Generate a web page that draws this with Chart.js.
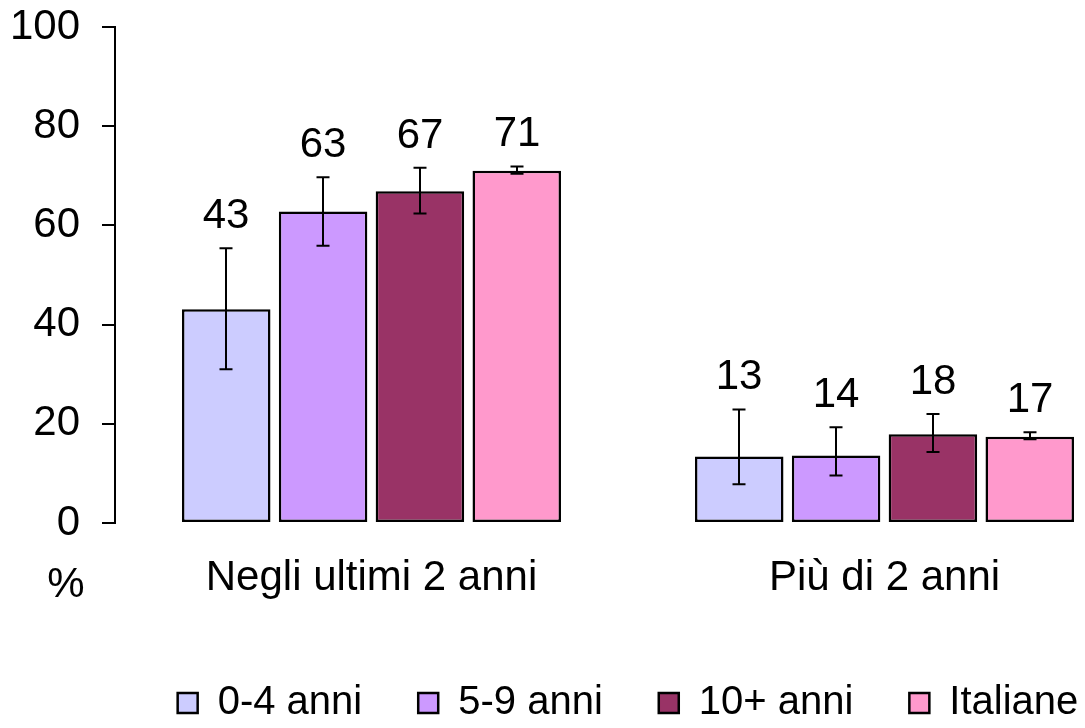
<!DOCTYPE html>
<html>
<head>
<meta charset="utf-8">
<script src="https://cdn.jsdelivr.net/npm/chart.js@4"></script>
<style>
  html, body { margin: 0; padding: 0; background: #fff; overflow: hidden; }
  canvas { display: block; }
</style>
</head>
<body>
<canvas id="chart" width="1141" height="728"></canvas>
<script>
const categories = ["Negli ultimi 2 anni", "Più di 2 anni"];
const seriesNames = ["0-4 anni", "5-9 anni", "10+ anni", "Italiane"];
const seriesColors = ["#CCCCFF", "#CC99FF", "#993366", "#FF99CC"];

const values04 = [43.1, 13.4];
const values59 = [62.8, 13.6];
const values10 = [66.9, 17.9];
const valuesIt = [71.0, 17.4];

const low04 = [31.0, 7.8];
const high04 = [55.4, 22.9];
const low59 = [55.9, 9.6];
const high59 = [69.7, 19.3];
const low10 = [62.4, 14.3];
const high10 = [71.6, 22.0];
const lowIt = [70.4, 16.9];
const highIt = [71.9, 18.3];

const yTicks = [0, 20, 40, 60, 80, 100];
const unitLabel = "%";

const FONT = "'Liberation Sans', Arial, sans-serif";
const SIZE = 42;

const seriesValues = [values04, values59, values10, valuesIt];
const seriesLow = [low04, low59, low10, lowIt];
const seriesHigh = [high04, high59, high10, highIt];

const datasets = seriesNames.map((name, i) => ({
  label: name,
  data: seriesValues[i],
  errLow: seriesLow[i],
  errHigh: seriesHigh[i],
  backgroundColor: seriesColors[i],
  borderColor: "#000",
  borderWidth: 2.5,
  borderSkipped: false,
  categoryPercentage: 0.755,
  barPercentage: 0.914,
}));

// error bars + value labels above them
const errorBars = {
  id: "errorBars",
  afterDatasetsDraw(chart) {
    const { ctx } = chart;
    const yScale = chart.scales.y;
    ctx.save();
    ctx.strokeStyle = "#000";
    ctx.lineWidth = 2;
    ctx.fillStyle = "#000";
    ctx.font = SIZE + "px " + FONT;
    ctx.textAlign = "center";
    ctx.textBaseline = "alphabetic";
    chart.data.datasets.forEach((ds, di) => {
      const meta = chart.getDatasetMeta(di);
      meta.data.forEach((bar, i) => {
        const x = Math.round(bar.x);
        const yLo = yScale.getPixelForValue(ds.errLow[i]);
        const yHi = yScale.getPixelForValue(ds.errHigh[i]);
        ctx.beginPath();
        ctx.moveTo(x, yLo);
        ctx.lineTo(x, yHi);
        ctx.moveTo(x - 6.5, yLo);
        ctx.lineTo(x + 6.5, yLo);
        ctx.moveTo(x - 6.5, yHi);
        ctx.lineTo(x + 6.5, yHi);
        ctx.stroke();
        ctx.fillText(String(Math.round(ds.data[i])), x, yHi - 20);
      });
    });
    // unit under the y axis
    ctx.fillText(unitLabel, 66, 597);
    ctx.restore();
  },
};

new Chart(document.getElementById("chart"), {
  type: "bar",
  data: { labels: categories, datasets: datasets },
  options: {
    responsive: false,
    animation: false,
    layout: { autoPadding: false, padding: { left: 10, top: 27, right: 0, bottom: -5 } },
    plugins: {
      tooltip: { enabled: false },
      legend: {
        position: "bottom",
        fullSize: false,
        labels: {
          boxWidth: 20,
          boxHeight: 20,
          padding: 56,
          color: "#000",
          font: { size: 40, family: FONT },
        },
      },
    },
    scales: {
      x: {
        grid: { display: false },
        border: { display: false },
        ticks: { color: "#000", padding: 22, font: { size: SIZE, family: FONT } },
        afterFit: (s) => { s.height = 104; },
      },
      y: {
        min: 0,
        max: 100,
        afterBuildTicks: (s) => { s.ticks = yTicks.map((v) => ({ value: v })); },
        border: { display: true, color: "#000", width: 2 },
        grid: { drawOnChartArea: false, color: "#000", lineWidth: 2, tickLength: 13 },
        ticks: { color: "#000", padding: 22, font: { size: SIZE, family: FONT } },
        afterFit: (s) => {
          s.width = 105;
          s.paddingTop = 0;
          s.paddingBottom = 0;
        },
      },
    },
  },
  plugins: [errorBars],
});
</script>
</body>
</html>
